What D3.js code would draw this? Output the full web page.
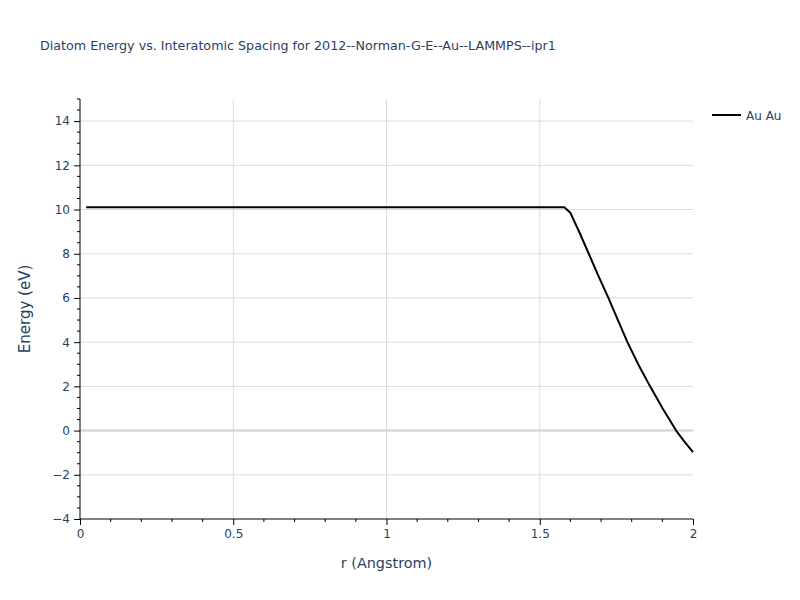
<!DOCTYPE html>
<html><head><meta charset="utf-8">
<script src="https://cdn.jsdelivr.net/npm/d3@7"></script>
<style>body{margin:0;background:#fff}svg{display:block}text{font-family:"DejaVu Sans",Verdana,sans-serif}</style>
</head><body><svg id="c" width="800" height="600"></svg>
<script>
const title = "Diatom Energy vs. Interatomic Spacing for 2012--Norman-G-E--Au--LAMMPS--ipr1";
const seriesName = "Au Au";
const rValues = [0.02, 0.2, 0.4, 0.6, 0.8, 1.0, 1.2, 1.4, 1.58, 1.6, 1.63, 1.66, 1.692, 1.724, 1.755, 1.786, 1.822, 1.86, 1.902, 1.945, 1.972, 2.0];
const energyValues = [10.1, 10.1, 10.1, 10.1, 10.1, 10.1, 10.1, 10.1, 10.1, 9.85, 8.95, 8.0, 6.98, 6.0, 5.0, 4.0, 2.98, 2.0, 0.98, 0.0, -0.5, -0.97];
const xTicks = [0, 0.5, 1, 1.5, 2];
const xTickLabels = ["0", "0.5", "1", "1.5", "2"];
const yTicks = [-4, -2, 0, 2, 4, 6, 8, 10, 12, 14];
const yTickLabels = ["\u22124", "\u22122", "0", "2", "4", "6", "8", "10", "12", "14"];

const svg = d3.select("#c");
const L = 80, R = 693, T = 99, B = 519;
const x = d3.scaleLinear().domain([0, 2]).range([L, R]);
const y = d3.scaleLinear().domain([-4, 15]).range([B, T]);
const txt = "#2a3f5f";

// grid
svg.append("g").selectAll("line").data(xTicks.filter(d => d > 0 && d < 2)).join("line")
  .attr("x1", d => x(d)).attr("x2", d => x(d)).attr("y1", T).attr("y2", B)
  .attr("stroke", "#dcdcdc").attr("stroke-width", 1);
svg.append("g").selectAll("line").data(yTicks.filter(d => d > -4)).join("line")
  .attr("x1", L).attr("x2", R).attr("y1", d => y(d)).attr("y2", d => y(d))
  .attr("stroke", d => d === 0 ? "#d0d0d0" : "#dcdcdc").attr("stroke-width", d => d === 0 ? 2 : 1);

// line
const line = d3.line().x((d, i) => x(rValues[i])).y(d => y(d));
svg.append("path").datum(energyValues).attr("d", line)
  .attr("fill", "none").attr("stroke", "#000").attr("stroke-width", 2).attr("stroke-linejoin", "round");

// axes
const xAxis = d3.axisBottom(x).tickValues(xTicks).tickFormat((d, i) => xTickLabels[i]).tickSize(6).tickPadding(4);
const gx = svg.append("g").attr("transform", `translate(0,${B})`).call(xAxis);
const xMinor = d3.range(0, 2.0001, 0.1).filter(v => Math.abs(v * 2 - Math.round(v * 2)) > 1e-6);
gx.selectAll(".minor").data(xMinor).join("line").attr("class", "minor")
  .attr("x1", d => x(d)).attr("x2", d => x(d)).attr("y1", 0).attr("y2", 3).attr("stroke", "#000");
gx.select(".domain").attr("stroke", "#000").attr("d", `M${L},0H${R}`);
gx.selectAll(".tick line").attr("stroke", "#000");
gx.selectAll("text").attr("fill", txt).attr("font-size", 12);

const yAxis = d3.axisLeft(y).tickValues(yTicks).tickFormat((d, i) => yTickLabels[i]).tickSize(6).tickPadding(4);
const gy = svg.append("g").attr("transform", `translate(${L},0)`).call(yAxis);
const yMinor = d3.range(-4, 15.0001, 0.5).filter(v => Math.abs(v / 2 - Math.round(v / 2)) > 1e-6);
gy.selectAll(".minor").data(yMinor).join("line").attr("class", "minor")
  .attr("x1", 0).attr("x2", -3).attr("y1", d => y(d)).attr("y2", d => y(d)).attr("stroke", "#000");
gy.select(".domain").attr("stroke", "#000").attr("d", `M0,${T}V${B}`);
gy.selectAll(".tick line").attr("stroke", "#000");
gy.selectAll("text").attr("fill", txt).attr("font-size", 12);

// titles
svg.append("text").attr("x", 40).attr("y", 50).attr("fill", txt).attr("font-size", 12.7).text(title);
svg.append("text").attr("x", (L + R) / 2).attr("y", 568).attr("text-anchor", "middle")
  .attr("fill", txt).attr("font-size", 14.4).text("r (Angstrom)");
svg.append("text").attr("transform", `translate(30,${(T + B) / 2}) rotate(-90)`).attr("text-anchor", "middle")
  .attr("fill", txt).attr("font-size", 15).text("Energy (eV)");

// legend
svg.append("line").attr("x1", 712).attr("x2", 741).attr("y1", 115).attr("y2", 115)
  .attr("stroke", "#000").attr("stroke-width", 2);
svg.append("text").attr("x", 746).attr("y", 119.5).attr("fill", txt).attr("font-size", 12).text(seriesName);
</script></body></html>
